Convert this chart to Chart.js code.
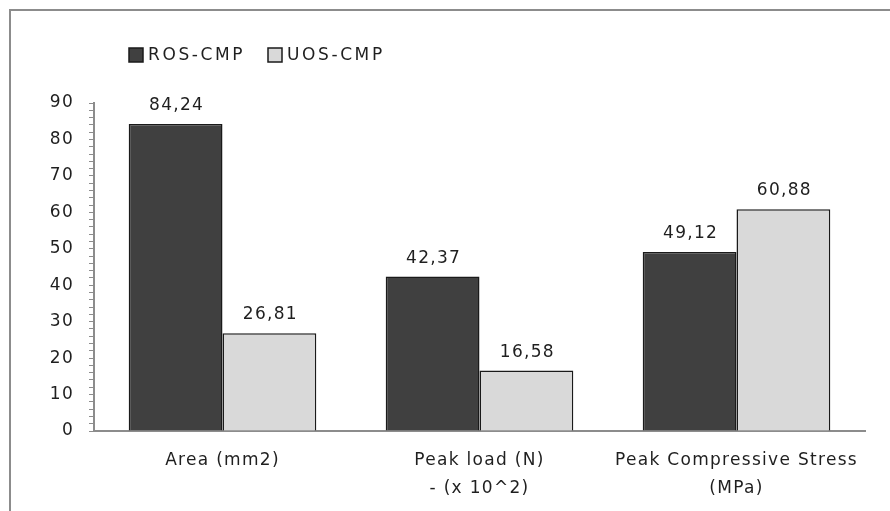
<!DOCTYPE html>
<html>
<head>
<meta charset="utf-8">
<script src="https://cdn.jsdelivr.net/npm/chart.js@4/dist/chart.umd.min.js"></script>
<style>
    html, body { margin: 0; padding: 0; background: #fff; }
    #wrap { position: relative; width: 890px; height: 511px; overflow: hidden; }
    #frame { position: absolute; left: 9px; top: 9px; width: 900px; height: 520px; border: 2px solid #8c8c8c; box-sizing: border-box; }
    #chart { position: absolute; left: 0; top: 0; }
</style>
</head>
<body>
<div id="wrap">
    <div id="frame"></div>
    <canvas id="chart" width="890" height="511"></canvas>
</div>
<script>
// Kategoriyalar va qiymatlar
const categories = [
    ['Area (mm2)'],
    ['Peak load (N)', '- (x 10^2)'],
    ['Peak Compressive Stress', '(MPa)']
];
const rosValues = [84.24, 42.37, 49.12];
const uosValues = [26.81, 16.58, 60.88];
const seriesNames = ['ROS-CMP', 'UOS-CMP'];
const yTicks = [0, 10, 20, 30, 40, 50, 60, 70, 80, 90];

const FONT = '"DejaVu Sans", sans-serif';
const SIZE = 17;
const SPACING = '1.3px';
const TEXT = '#1f1f1f';

// Excel uslubidagi keng harf oralig'i
const spacing = {
    id: 'spacing',
    beforeUpdate(chart) { chart.ctx.letterSpacing = SPACING; },
    beforeDraw(chart) { chart.ctx.letterSpacing = SPACING; }
};

// Legenda (chap yuqorida)
const topLegend = {
    id: 'topLegend',
    afterDraw(chart) {
        const ctx = chart.ctx;
        ctx.save();
        ctx.font = SIZE + 'px ' + FONT;
        ctx.letterSpacing = '2.6px';
        ctx.textBaseline = 'middle';
        ctx.textAlign = 'left';
        let x = 129;
        const y = 54;
        chart.data.datasets.forEach(ds => {
            ctx.fillStyle = ds.backgroundColor;
            ctx.fillRect(x, y - 6, 14, 14);
            ctx.strokeStyle = ds.borderColor;
            ctx.lineWidth = 1.5;
            ctx.strokeRect(x, y - 6, 14, 14);
            ctx.fillStyle = TEXT;
            ctx.fillText(ds.label, x + 19, y + 2);
            x += 139;
        });
        ctx.restore();
    }
};

// Ustun ustidagi qiymatlar (vergul bilan)
const valueLabels = {
    id: 'valueLabels',
    afterDatasetsDraw(chart) {
        const ctx = chart.ctx;
        ctx.save();
        ctx.font = SIZE + 'px ' + FONT;
        ctx.fillStyle = TEXT;
        ctx.textAlign = 'center';
        ctx.textBaseline = 'alphabetic';
        chart.data.datasets.forEach((ds, i) => {
            const meta = chart.getDatasetMeta(i);
            meta.data.forEach((bar, j) => {
                const txt = ds.data[j].toFixed(2).replace('.', ',');
                ctx.fillText(txt, bar.x + 1, bar.y - 14);
            });
        });
        ctx.restore();
    }
};

new Chart(document.getElementById('chart'), {
    type: 'bar',
    data: {
        labels: categories,
        datasets: [
            {
                label: seriesNames[0],
                data: rosValues,
                backgroundColor: '#404040',
                borderColor: '#1a1a1a',
                borderWidth: 1.5
            },
            {
                label: seriesNames[1],
                data: uosValues,
                backgroundColor: '#d9d9d9',
                borderColor: '#1a1a1a',
                borderWidth: 1.5
            }
        ]
    },
    options: {
        responsive: false,
        animation: false,
        datasets: {
            bar: {
                categoryPercentage: 0.73,
                barPercentage: 1
            }
        },
        layout: {
            padding: { left: 50, right: 25, top: 103, bottom: 10 }
        },
        plugins: {
            legend: { display: false },
            tooltip: { enabled: false }
        },
        scales: {
            x: {
                grid: { display: false, drawTicks: false },
                border: { color: '#8c8c8c', width: 2 },
                ticks: {
                    color: TEXT,
                    font: { family: FONT, size: SIZE, lineHeight: 1.65 },
                    maxRotation: 0,
                    padding: 16
                },
                afterFit(scale) { scale.height = 70; }
            },
            y: {
                min: 0,
                max: 90,
                afterBuildTicks(scale) {
                    // kichik chiziqchalar har 2 birlikda
                    const t = [];
                    for (let v = 0; v <= 90; v += 2) t.push({ value: v });
                    scale.ticks = t;
                },
                afterFit(scale) { scale.width = 44; },
                grid: {
                    drawOnChartArea: false,
                    drawTicks: true,
                    tickLength: 5,
                    color: '#8c8c8c'
                },
                border: { color: '#8c8c8c', width: 2 },
                ticks: {
                    autoSkip: false,
                    color: TEXT,
                    font: { family: FONT, size: SIZE },
                    padding: 15,
                    callback: (v) => yTicks.includes(v) ? String(v) : ''
                }
            }
        }
    },
    plugins: [spacing, topLegend, valueLabels]
});
</script>
</body>
</html>
